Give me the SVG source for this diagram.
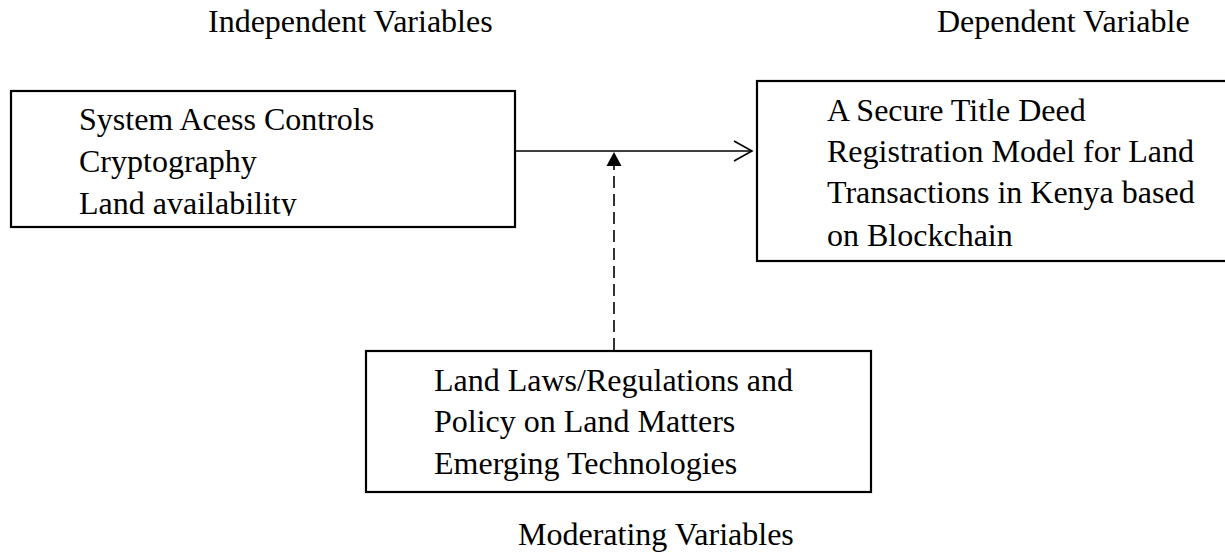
<svg xmlns="http://www.w3.org/2000/svg" width="1225" height="557" viewBox="0 0 1225 557">
  <style>
    .t { font-family: "Liberation Serif", "Times New Roman", serif; font-size: 32px; fill: #000; }
    .box { fill: #fff; stroke: #000; stroke-width: 2.2; }
    .conn { fill: none; stroke: #000; stroke-width: 1.6; }
  </style>
  <defs>
    <clipPath id="leftClip">
      <rect x="0" y="0" width="520" height="216"/>
    </clipPath>
  </defs>
  <rect width="1225" height="557" fill="#fff"/>

  <!-- column headings -->
  <text class="t" x="208" y="32">Independent Variables</text>
  <text class="t" x="937" y="32">Dependent Variable</text>

  <!-- independent variables -->
  <g id="independent">
    <rect class="box" x="11" y="91" width="504" height="136"/>
    <g clip-path="url(#leftClip)">
      <text class="t" x="79" y="130">System Acess Controls</text>
      <text class="t" x="79" y="171.5">Cryptography</text>
      <text class="t" x="79" y="213.5">Land availability</text>
    </g>
  </g>

  <!-- dependent variable (box runs past the right edge) -->
  <g id="dependent">
    <rect class="box" x="757" y="81" width="500" height="180"/>
    <text class="t" x="827" y="121">A Secure Title Deed</text>
    <text class="t" x="827" y="162">Registration Model for Land</text>
    <text class="t" x="827" y="203">Transactions in Kenya based</text>
    <text class="t" x="827" y="246">on Blockchain</text>
  </g>

  <!-- moderating variables -->
  <g id="moderating">
    <rect class="box" x="366" y="351" width="505" height="141"/>
    <text class="t" x="434" y="391">Land Laws/Regulations and</text>
    <text class="t" x="434" y="432">Policy on Land Matters</text>
    <text class="t" x="434" y="474">Emerging Technologies</text>
  </g>
  <text class="t" x="518" y="545">Moderating Variables</text>

  <!-- connectors -->
  <g id="connectors">
    <line class="conn" x1="516" y1="151" x2="752" y2="151"/>
    <polyline class="conn" points="734,141 752,151 734,161" stroke-width="2"/>
    <line class="conn" x1="614" y1="350" x2="614" y2="166" stroke-width="2" stroke-dasharray="12 6"/>
    <polygon points="614,152 606.5,166 621.5,166" fill="#000"/>
  </g>
</svg>
